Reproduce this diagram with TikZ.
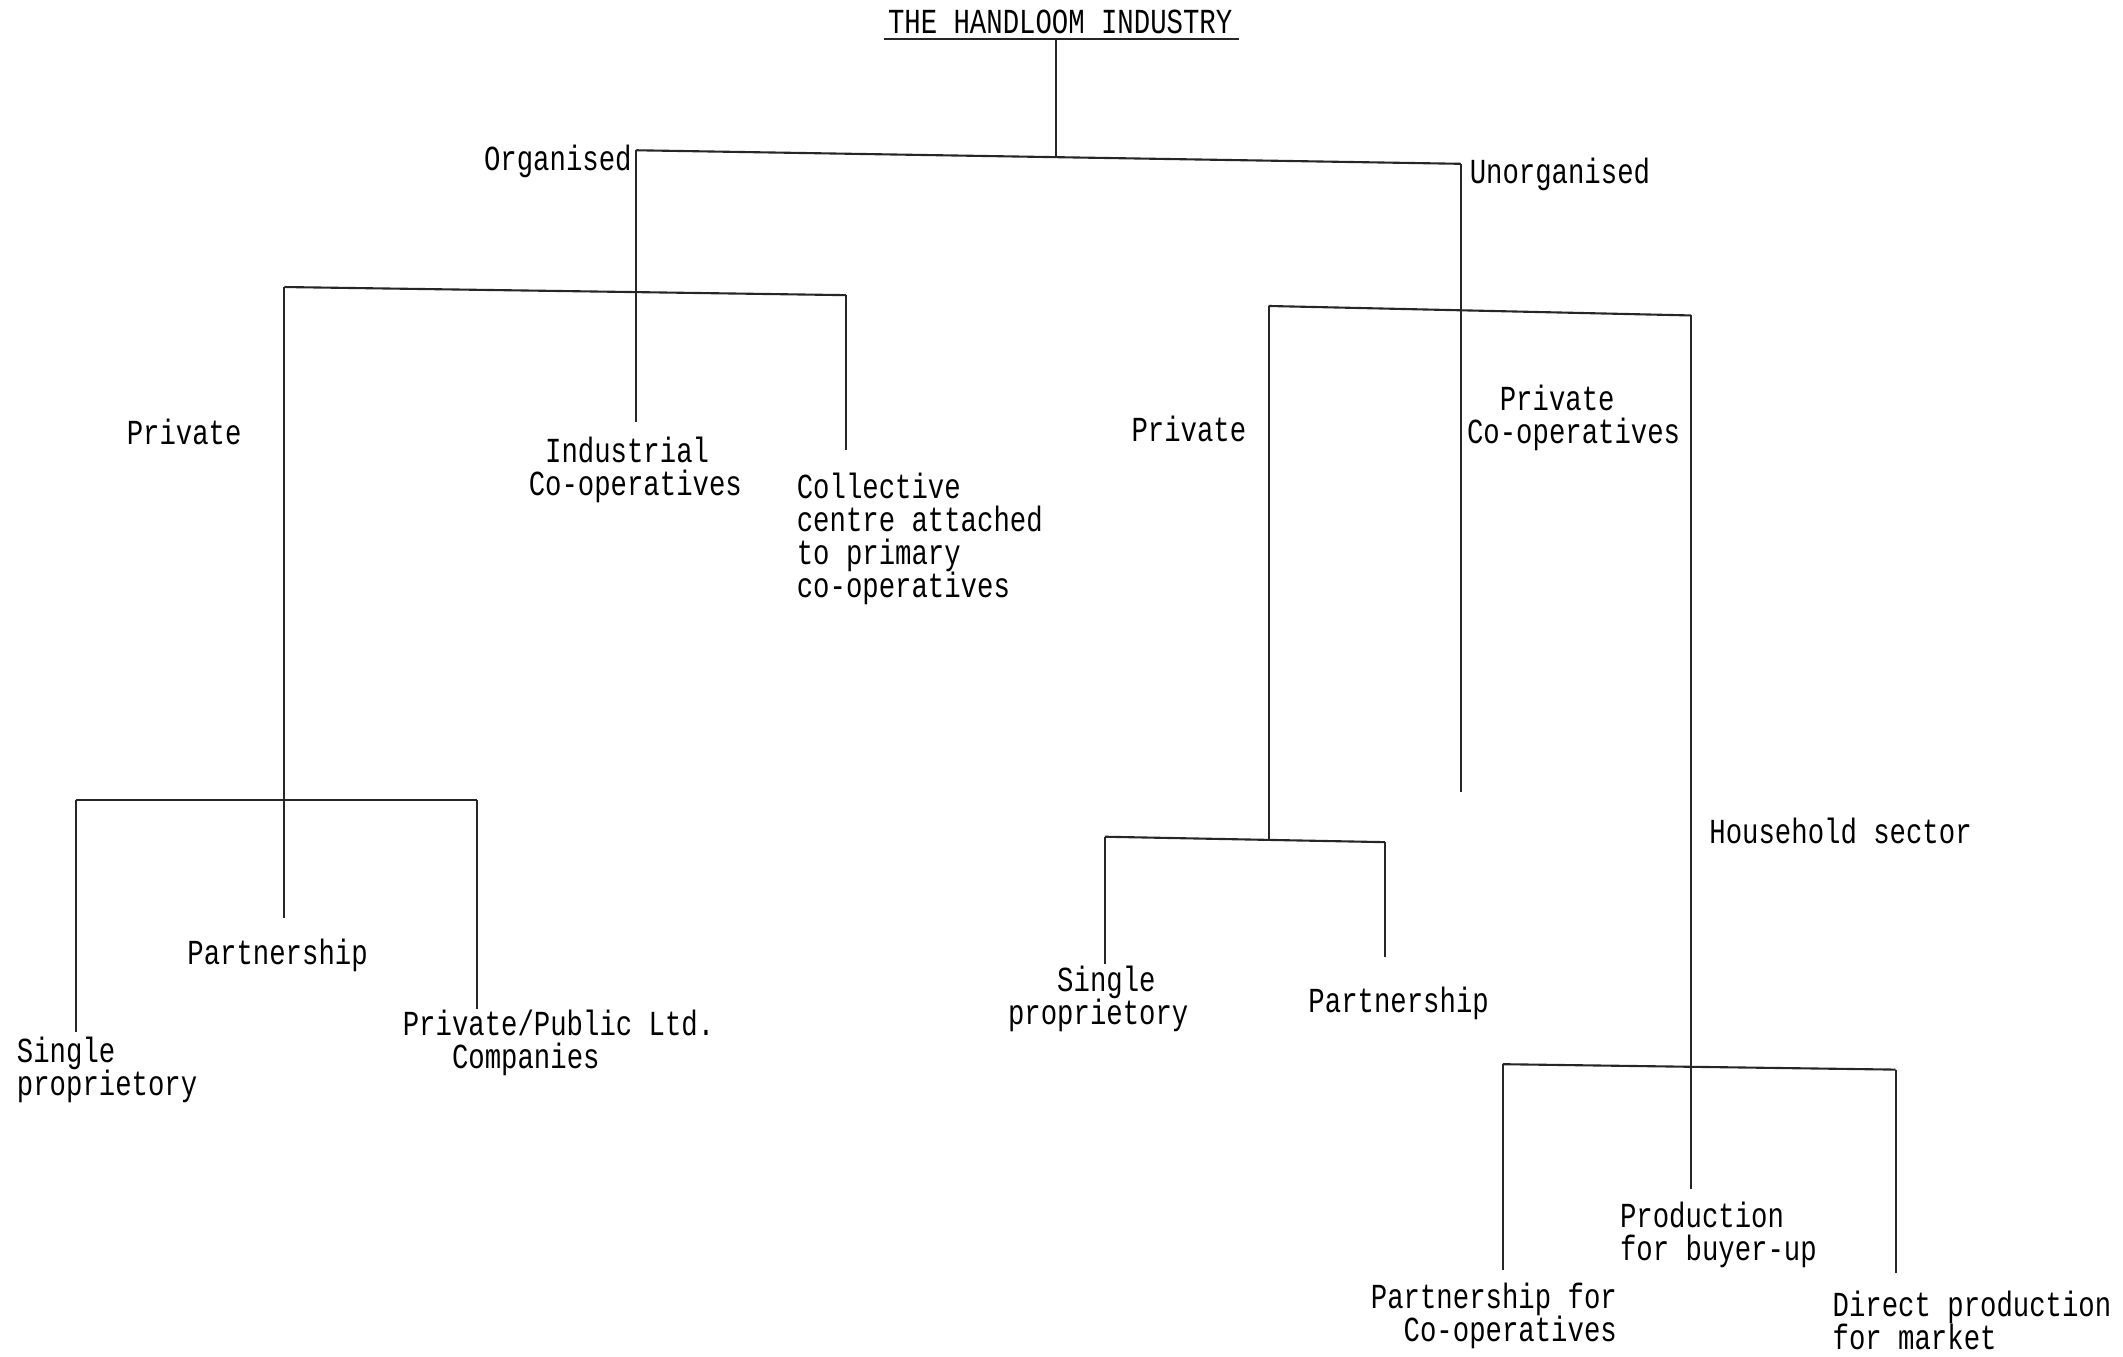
\documentclass[tikz,border=0pt]{standalone}
\usepackage{fontspec}
\newfontfamily\typewriter[FakeStretch=0.777]{Liberation Mono}
\begin{document}
\begin{tikzpicture}[
  x=0.01354cm,
  y=-0.01354cm,
  txt/.style={
    font=\typewriter\fontsize{10}{9.4}\selectfont,
    inner sep=0pt,
    align=left
  },
  branch/.style={draw=black!85, line width=0.6pt}
]
\useasboundingbox (0,0) rectangle (1568,1002);

% ---------------------------------------------------------------------------
% Title and first split
% ---------------------------------------------------------------------------
\node[txt] (title) at (783,16) {THE HANDLOOM INDUSTRY};
\coordinate (ulL) at (653,29);
\coordinate (ulR) at (915,29);
\coordinate (root) at (780,29);
\coordinate (rootJ) at (780,116);
\coordinate (orgJ) at (470,111);
\coordinate (unoJ) at (1079,121);
\draw[branch] (ulL) -- (ulR);
\draw[branch] (root) -- (rootJ);
\draw[branch] (orgJ) -- (unoJ);

\node[txt, anchor=east] (org) at (467,119) {Organised};
\node[txt, anchor=west] (unorg) at (1085,129) {Unorganised};

% ---------------------------------------------------------------------------
% Organised sector
% ---------------------------------------------------------------------------
\coordinate (indEnd) at (470,312);
\coordinate (oBarL) at (210,212);
\coordinate (oBarR) at (625,218);
\coordinate (colEnd) at (625,332);
\coordinate (oPriv) at (210,591);
\coordinate (oPartEnd) at (210,678);
\draw[branch] (orgJ) -- (indEnd);
\draw[branch] (oBarL) -- (oBarR);
\draw[branch] (oBarR) -- (colEnd);
\draw[branch] (oBarL) -- (oPartEnd);

\node[txt] (oprivate) at (136,319) {Private};
\node[txt, anchor=west] (indcoop) at (390,347) {\phantom{C}Industrial\\Co-operatives};
\node[txt, anchor=west] (collect) at (588,398)
  {Collective\\centre attached\\to primary\\co-operatives};

% private firms under the organised sector
\coordinate (pBarL) at (56,591);
\coordinate (pBarR) at (352,591);
\coordinate (pSingEnd) at (56,762);
\coordinate (pLtdEnd) at (352,745);
\draw[branch] (pBarL) -- (pBarR);
\draw[branch] (pBarL) -- (pSingEnd);
\draw[branch] (pBarR) -- (pLtdEnd);

\node[txt] (opart) at (205,706) {Partnership};
\node[txt, anchor=west] (osingle) at (12,790) {Single\\proprietory};
\node[txt, anchor=west] (oltd) at (297,770) {Private/Public Ltd.\\\phantom{Pri}Companies};

% ---------------------------------------------------------------------------
% Unorganised sector
% ---------------------------------------------------------------------------
\coordinate (unoEnd) at (1079,585);
\coordinate (uBarL) at (937,226);
\coordinate (uBarR) at (1249,233);
\coordinate (uPriv) at (937,620);
\coordinate (uHhEnd) at (1249,878);
\draw[branch] (unoJ) -- (unoEnd);
\draw[branch] (uBarL) -- (uBarR);
\draw[branch] (uBarL) -- (uPriv);
\draw[branch] (uBarR) -- (uHhEnd);

\node[txt, anchor=east] (uprivate) at (921,317) {Private};
\node[txt, anchor=west] (ucoop) at (1083,309) {\phantom{Co}Private\\Co-operatives};
\node[txt, anchor=west] (house) at (1262,614) {Household sector};

% private firms under the unorganised sector
\coordinate (qBarL) at (816,618);
\coordinate (qBarR) at (1023,622);
\coordinate (qSingEnd) at (816,712);
\coordinate (qPartEnd) at (1023,707);
\draw[branch] (qBarL) -- (qBarR);
\draw[branch] (qBarL) -- (qSingEnd);
\draw[branch] (qBarR) -- (qPartEnd);

\node[txt, anchor=west] (usingle) at (744,738) {\phantom{pro}Single\\proprietory};
\node[txt] (upart) at (1033,741) {Partnership};

% household sector
\coordinate (hBarL) at (1110,786);
\coordinate (hBarR) at (1400,790);
\coordinate (hCoopEnd) at (1110,938);
\coordinate (hMktEnd) at (1400,940);
\draw[branch] (hBarL) -- (hBarR);
\draw[branch] (hBarL) -- (hCoopEnd);
\draw[branch] (hBarR) -- (hMktEnd);

\node[txt, anchor=west] (buyer) at (1196,912) {Production\\for buyer-up};
\node[txt, anchor=west] (hcoop) at (1012,972) {Partnership for\\\phantom{Pa}Co-operatives};
\node[txt, anchor=west] (market) at (1353,975) {Direct production\\for market};

\end{tikzpicture}
\end{document}
